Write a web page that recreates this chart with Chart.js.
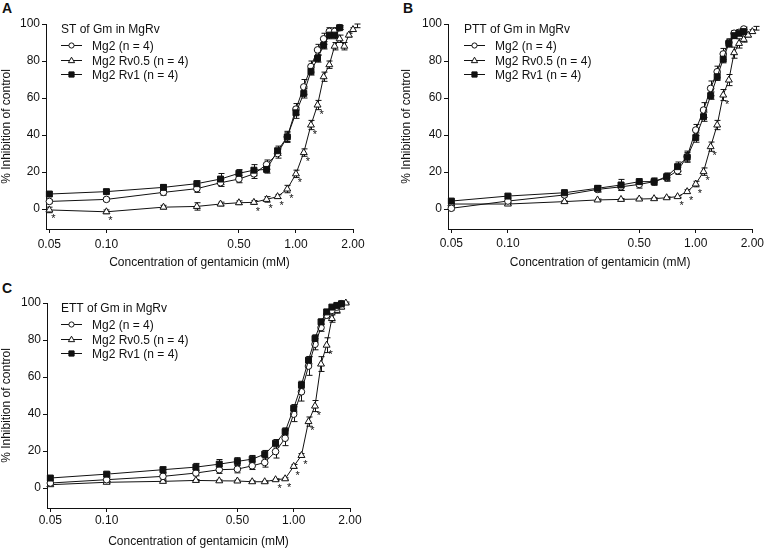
<!DOCTYPE html>
<html>
<head>
<meta charset="utf-8">
<script src="https://cdn.jsdelivr.net/npm/chart.js@4.4.1/dist/chart.umd.min.js"></script>
<style>
  body { margin: 0; background: #fff; width: 767px; height: 550px; position: relative; overflow: hidden;
         font-family: "Liberation Sans", Arial, sans-serif; color: #111; }
  canvas { position: absolute; }
  .letter { position: absolute; font-weight: bold; font-size: 14px; line-height: 14px; }
</style>
</head>
<body>
<div class="letter" style="left:2px;top:1px">A</div>
<div class="letter" style="left:403px;top:1px">B</div>
<div class="letter" style="left:2px;top:281px">C</div>
<canvas id="chartA" width="383" height="270" style="left:0;top:0"></canvas>
<canvas id="chartB" width="383" height="270" style="left:384px;top:0"></canvas>
<canvas id="chartC" width="383" height="280" style="left:0;top:270px"></canvas>
<script>
// concentrations (mM)
const concTo17 = [0.05, 0.1, 0.2, 0.3, 0.4, 0.5, 0.6, 0.7, 0.8, 0.9, 1.0, 1.1, 1.2, 1.3, 1.4, 1.5, 1.6, 1.7];
const concTo18 = [0.05, 0.1, 0.2, 0.3, 0.4, 0.5, 0.6, 0.7, 0.8, 0.9, 1.0, 1.1, 1.2, 1.3, 1.4, 1.5, 1.6, 1.7, 1.8];
const concTo19 = [0.05, 0.1, 0.2, 0.3, 0.4, 0.5, 0.6, 0.7, 0.8, 0.9, 1.0, 1.1, 1.2, 1.3, 1.4, 1.5, 1.6, 1.7, 1.8, 1.9];
const concTo21 = [0.05, 0.1, 0.2, 0.3, 0.4, 0.5, 0.6, 0.7, 0.8, 0.9, 1.0, 1.1, 1.2, 1.3, 1.4, 1.5, 1.6, 1.7, 1.8, 1.9, 2.0, 2.1];

const xTicks = [0.05, 0.1, 0.5, 1, 2];
const yTicks = [0, 20, 40, 60, 80, 100];
const seriesNames = ["Mg2 (n = 4)", "Mg2 Rv0.5 (n = 4)", "Mg2 Rv1 (n = 4)"];

// A: ST
const stMg2 = [4.1, 5.2, 9, 11, 14.2, 16.2, 19, 24, 30, 39, 54, 66, 77, 86, 92, 96, 96, 98];
const stMg2Err = [1, 1, 1.5, 2, 2, 2, 2.5, 2.5, 2.5, 3, 3, 4, 3, 3, 3, 2, 2, 1];
const stRv05 = [-0.5, -1.5, 1, 1.4, 2.7, 3.4, 3.6, 5.2, 6.7, 10.8, 19, 30.5, 45.4, 56.2, 71.5, 78, 88, 92, 88, 94, 97, 99];
const stRv05Err = [1.5, 1, 1, 2, 1, 1, 1, 1.5, 1, 2, 2, 2, 2.5, 2.5, 2.5, 2, 2, 2, 2, 1, 1, 1];
const stRv1 = [8.1, 9.4, 11.7, 13.7, 16.2, 19.3, 21, 21.4, 31.5, 39, 52, 62.5, 74.4, 81.4, 88.5, 94, 94, 98];
const stRv1Err = [1, 1, 1.5, 1.5, 3, 2, 3, 2, 2.5, 2.5, 3, 2.5, 2, 2, 2, 2, 2, 1];
const stStars = [0.05, 0.1, 0.6, 0.7, 0.8, 0.9, 1.0, 1.1, 1.2, 1.3];

// B: PTT
const pttMg2 = [0.4, 4.3, 7.6, 10.6, 12, 13.3, 14.8, 17, 20.7, 28.3, 42.7, 53.5, 65.2, 74.2, 83.8, 90, 95, 95.5, 97.3];
const pttMg2Err = [1, 1, 1, 1.5, 2, 2, 2, 2, 2, 3, 3, 4, 4, 3, 3, 2, 1.5, 1.5, 1];
const pttRv05 = [2.7, 2.7, 4, 4.9, 5.2, 5.4, 5.6, 6.1, 6.7, 9.4, 13.5, 20.2, 33.7, 45.4, 61.6, 69.7, 84.5, 89.5, 91.7, 94, 95.9, 97.7];
const pttRv05Err = [0.5, 0.5, 0.5, 0.5, 0.5, 0.5, 0.5, 0.5, 0.5, 1, 1.5, 2, 2.5, 2.5, 3, 3, 3, 2.5, 1.5, 1, 1, 1];
const pttRv1 = [4.3, 7, 8.8, 11.2, 13, 14.8, 14.8, 17.5, 22.9, 28, 38.6, 49.9, 61.3, 71.5, 81, 89.5, 93.7, 95, 95.9];
const pttRv1Err = [1, 1, 1.5, 1.5, 3, 1.5, 1.5, 2, 2.5, 2.5, 2.5, 2.5, 2, 2, 2, 2, 1.5, 1, 1];
const pttStars = [0.8, 0.9, 1.0, 1.1, 1.2, 1.4];

// C: ETT
const ettMg2 = [2.7, 4.5, 6.3, 8.1, 9.9, 10.2, 12, 13.8, 19.7, 26.9, 39.9, 52, 65.9, 77.7, 86.7, 93.4, 96, 97.8, 99.6];
const ettMg2Err = [1, 1, 1.5, 1.5, 2, 2, 2, 2.5, 3.5, 4, 4, 5, 5, 3, 2, 1.5, 1, 1, 0.5];
const ettRv05 = [1.8, 3.1, 3.6, 4.1, 3.9, 3.8, 3.4, 3.4, 4.5, 5, 11.7, 17.6, 35.9, 44.3, 67, 77.2, 91.6, 96, 97.8, 100];
const ettRv05Err = [0.5, 0.5, 0.5, 0.5, 0.5, 0.5, 0.5, 0.5, 0.5, 0.5, 1, 1, 2.5, 3, 4, 4, 2, 1.5, 1, 0.5];
const ettRv1 = [5.4, 7.5, 9.9, 11.3, 12.9, 14.4, 15.6, 18.3, 24.2, 30.5, 43.1, 55.7, 69.1, 80.8, 89.8, 95.2, 97.8, 98.7, 99.6];
const ettRv1Err = [1, 1, 1.5, 2, 2.5, 2, 2, 2, 2, 2, 2, 2, 2, 2, 1.5, 1, 1, 0.5, 0.5];
const ettStars = [0.8, 0.9, 1.0, 1.1, 1.2, 1.3, 1.5];

const FONT = "'Liberation Sans', Arial, sans-serif";
const INK = "#111";
Chart.defaults.font.family = FONT;
Chart.defaults.font.size = 12;
Chart.defaults.color = INK;

function drawMarker(ctx, style, x, y, r, fill) {
  ctx.beginPath();
  if (style === "circle") {
    ctx.arc(x, y, r, 0, Math.PI * 2);
  } else if (style === "triangle") {
    ctx.moveTo(x, y - r);
    ctx.lineTo(x + r * 0.95, y + r * 0.65);
    ctx.lineTo(x - r * 0.95, y + r * 0.65);
    ctx.closePath();
  } else {
    ctx.rect(x - r, y - r, 2 * r, 2 * r);
  }
  ctx.fillStyle = fill;
  ctx.fill();
  ctx.stroke();
}

// error bars go under the markers
const errorBars = {
  id: "errorBars",
  beforeDatasetsDraw(chart) {
    const ctx = chart.ctx;
    const yScale = chart.scales.y;
    ctx.save();
    ctx.strokeStyle = INK;
    ctx.lineWidth = 1;
    chart.data.datasets.forEach((ds, i) => {
      const meta = chart.getDatasetMeta(i);
      meta.data.forEach((pt, j) => {
        const e = ds.errors[j];
        if (!e) return;
        const v = ds.data[j].y;
        const top = yScale.getPixelForValue(v + e);
        const bot = yScale.getPixelForValue(v - e);
        const px = Math.round(pt.x) + 0.5;
        ctx.beginPath();
        ctx.moveTo(px, top); ctx.lineTo(px, bot);
        ctx.moveTo(px - 3, top); ctx.lineTo(px + 3, top);
        ctx.moveTo(px - 3, bot); ctx.lineTo(px + 3, bot);
        ctx.stroke();
      });
    });
    ctx.restore();
  }
};

const starMarks = {
  id: "starMarks",
  afterDatasetsDraw(chart, args, opts) {
    const ctx = chart.ctx;
    const ds = chart.data.datasets[1];
    const meta = chart.getDatasetMeta(1);
    ctx.save();
    ctx.font = "11px " + FONT;
    ctx.fillStyle = INK;
    ctx.textAlign = "center";
    ctx.textBaseline = "middle";
    opts.at.forEach(c => {
      const j = ds.data.findIndex(p => p.x === c);
      if (j < 0) return;
      const pt = meta.data[j];
      ctx.fillText("*", pt.x + 4, pt.y + 9.5);
    });
    ctx.restore();
  }
};

const panelLegend = {
  id: "panelLegend",
  afterDraw(chart, args, opts) {
    const ctx = chart.ctx;
    const x0 = chart.chartArea.left + opts.dx;
    const y0 = chart.chartArea.top;
    ctx.save();
    ctx.font = "12px " + FONT;
    ctx.fillStyle = INK;
    ctx.strokeStyle = INK;
    ctx.lineWidth = 1;
    ctx.textBaseline = "alphabetic";
    ctx.fillText(opts.title, x0, y0 + 8.6);
    chart.data.datasets.forEach((ds, i) => {
      const yy = Math.round(y0 + 21 + i * 14.6) + 0.5;
      ctx.beginPath();
      ctx.moveTo(x0, yy);
      ctx.lineTo(x0 + 21, yy);
      ctx.stroke();
      drawMarker(ctx, ds.pointStyle, x0 + 10.5, yy, ds.pointStyle === "triangle" ? 3.3 : 2.6, ds.pointBackgroundColor);
      ctx.fillStyle = INK;
      ctx.fillText(ds.label, x0 + 31, yy + 4.3);
    });
    ctx.restore();
  }
};

function series(label, xs, ys, errs, style, radius, fill, order) {
  return {
    label: label,
    data: xs.map((x, i) => ({ x: x, y: ys[i] })),
    errors: errs,
    order: order,
    borderColor: INK,
    borderWidth: 1,
    pointStyle: style,
    pointRadius: radius,
    pointBackgroundColor: fill,
    pointBorderColor: INK,
    pointBorderWidth: 1,
    tension: 0,
    clip: false
  };
}

function makePanel(id, cfg) {
  return new Chart(document.getElementById(id), {
    type: "line",
    data: {
      datasets: [
        series(seriesNames[0], cfg.mg2X, cfg.mg2, cfg.mg2Err, "circle", 3.3, "#fff", 1),
        series(seriesNames[1], cfg.rv05X, cfg.rv05, cfg.rv05Err, "triangle", 4, "#fff", 2),
        series(seriesNames[2], cfg.rv1X, cfg.rv1, cfg.rv1Err, "rect", 4.2, INK, 0)
      ]
    },
    options: {
      responsive: false,
      animation: false,
      events: [],
      layout: { padding: cfg.padding },
      plugins: {
        legend: { display: false },
        tooltip: { enabled: false },
        panelLegend: { title: cfg.title, dx: cfg.legendDx },
        starMarks: { at: cfg.stars }
      },
      scales: {
        x: {
          type: "logarithmic",
          min: 0.048,
          max: 2,
          afterBuildTicks: s => { s.ticks = xTicks.map(v => ({ value: v })); },
          afterFit: s => { s.height = 41; },
          ticks: { callback: v => Number(v).toFixed(2), autoSkip: false, maxRotation: 0, padding: cfg.xPad, color: INK },
          grid: { drawOnChartArea: false, drawTicks: true, tickLength: 4, color: INK },
          border: { display: true, color: INK, width: 1 },
          title: { display: true, text: "Concentration of gentamicin (mM)", color: INK, padding: { top: 0, bottom: 0 } }
        },
        y: {
          type: "linear",
          min: -10.8,
          max: 100,
          afterBuildTicks: s => { s.ticks = yTicks.map(v => ({ value: v })); },
          afterFit: s => { s.width = cfg.yWidth; },
          ticks: { padding: 2, color: INK },
          grid: { drawOnChartArea: false, drawTicks: true, tickLength: 4, color: INK },
          border: { display: true, color: INK, width: 1 },
          title: { display: true, text: "% Inhibition of control", color: INK, padding: { top: -1, bottom: 0 } }
        }
      }
    },
    plugins: [errorBars, starMarks, panelLegend]
  });
}

makePanel("chartA", {
  title: "ST of Gm in MgRv",
  mg2X: concTo17, mg2: stMg2, mg2Err: stMg2Err,
  rv05X: concTo21, rv05: stRv05, rv05Err: stRv05Err,
  rv1X: concTo17, rv1: stRv1, rv1Err: stRv1Err,
  stars: stStars,
  padding: { left: 0, top: 24, right: 30, bottom: 0 },
  yWidth: 46, xPad: 4, legendDx: 15
});

makePanel("chartB", {
  title: "PTT of Gm in MgRv",
  mg2X: concTo18, mg2: pttMg2, mg2Err: pttMg2Err,
  rv05X: concTo21, rv05: pttRv05, rv05Err: pttRv05Err,
  rv1X: concTo18, rv1: pttRv1, rv1Err: pttRv1Err,
  stars: pttStars,
  padding: { left: 16, top: 24, right: 14, bottom: 0 },
  yWidth: 48, xPad: 3, legendDx: 16
});

makePanel("chartC", {
  title: "ETT of Gm in MgRv",
  mg2X: concTo18, mg2: ettMg2, mg2Err: ettMg2Err,
  rv05X: concTo19, rv05: ettRv05, rv05Err: ettRv05Err,
  rv1X: concTo18, rv1: ettRv1, rv1Err: ettRv1Err,
  stars: ettStars,
  padding: { left: 0, top: 33, right: 33, bottom: 1 },
  yWidth: 47, xPad: 1.5, legendDx: 14
});
</script>
</body>
</html>
